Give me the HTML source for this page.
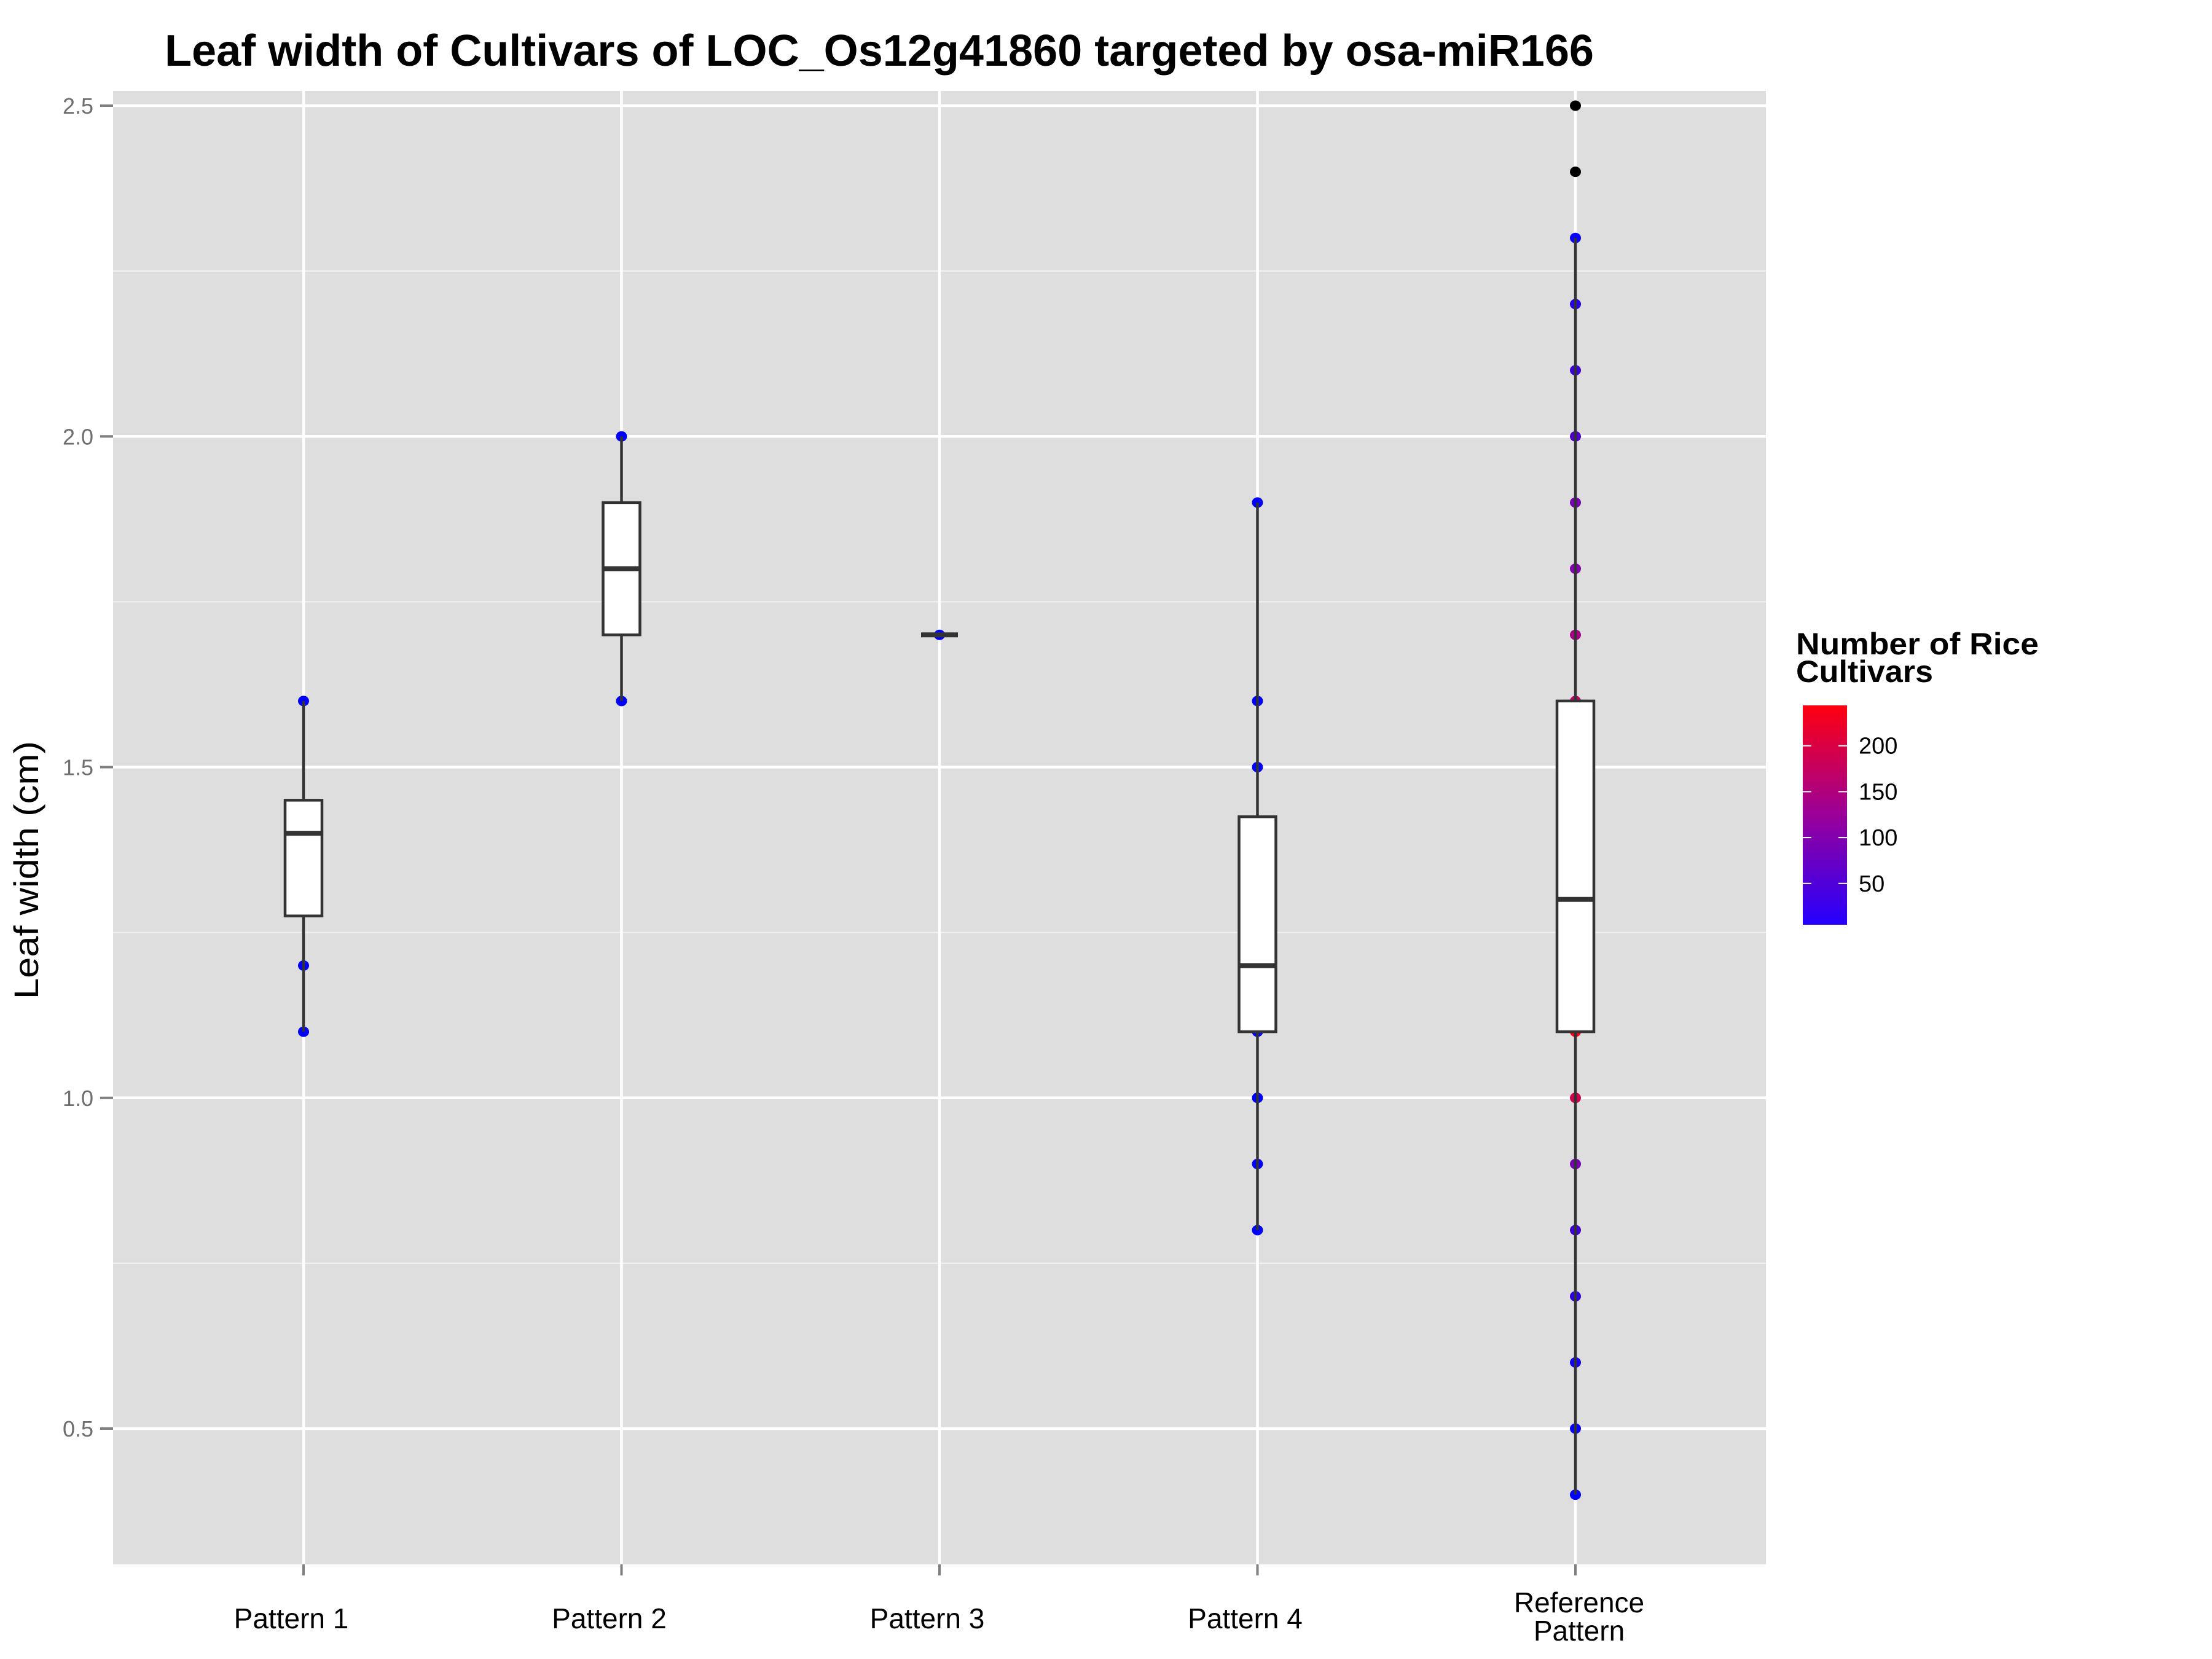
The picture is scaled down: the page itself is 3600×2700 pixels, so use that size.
<!DOCTYPE html>
<html><head><meta charset="utf-8"><style>
html,body{margin:0;padding:0;background:#fff;}
svg{display:block;font-family:"Liberation Sans",sans-serif;}
</style></head><body>
<svg id="chart" width="3600" height="2700" viewBox="0 0 3600 2700" xmlns="http://www.w3.org/2000/svg">
<defs>
<linearGradient id="cgrad" x1="0" y1="1" x2="0" y2="0">
<stop offset="0" stop-color="#2400ff"/>
<stop offset="0.5" stop-color="#9a0099"/>
<stop offset="1" stop-color="#ff0010"/>
</linearGradient>
</defs>
<text x="268" y="107" font-size="72" font-weight="bold" textLength="2326" lengthAdjust="spacingAndGlyphs">Leaf width of Cultivars of LOC_Os12g41860 targeted by osa-miR166</text>
<rect x="184" y="148" width="2690" height="2398" fill="#dedede"/>
<g id="grid"></g>
<g id="axes"></g>
<g id="marks"></g>
<text transform="translate(62,1416) rotate(-90)" text-anchor="middle" font-size="56" textLength="420" lengthAdjust="spacingAndGlyphs">Leaf width (cm)</text>
<g>
<text x="2923" y="1065" font-size="50" font-weight="bold" textLength="395" lengthAdjust="spacingAndGlyphs">Number of Rice</text>
<text x="2923" y="1110" font-size="50" font-weight="bold" textLength="223" lengthAdjust="spacingAndGlyphs">Cultivars</text>
<rect x="2934" y="1148" width="72" height="357" fill="url(#cgrad)"/>
<g id="legendticks"></g>
</g>
</svg>
<script>
const categories = ["Pattern 1","Pattern 2","Pattern 3","Pattern 4","Reference Pattern"];
const boxLower = [1.275, 1.7, 1.7, 1.1, 1.1];
const boxMedian = [1.4, 1.8, 1.7, 1.2, 1.3];
const boxUpper = [1.45, 1.9, 1.7, 1.425, 1.6];
const whiskerLow = [1.1, 1.6, 1.7, 0.8, 0.4];
const whiskerHigh = [1.6, 2.0, 1.7, 1.9, 2.3];
const pointCat = [0,0,0,0,0, 1,1,1, 2, 3,3,3,3,3,3,3,3,
  4,4,4,4,4,4,4,4,4,4,4,4,4,4,4,4,4,4,4,4,4,4];
const pointY = [1.1,1.2,1.3,1.4,1.6, 1.6,1.8,2.0, 1.7, 0.8,0.9,1.0,1.1,1.2,1.5,1.6,1.9,
  0.4,0.5,0.6,0.7,0.8,0.9,1.0,1.1,1.2,1.3,1.4,1.5,1.6,1.7,1.8,1.9,2.0,2.1,2.2,2.3,2.4,2.5];
const pointCount = [3,2,2,2,2, 2,2,3, 2, 2,3,5,4,3,4,5,6,
  5,8,18,40,55,95,190,240,200,180,170,175,170,140,105,95,65,50,35,12,null,null];
const yTicks = [0.5,1.0,1.5,2.0,2.5];
const yTickLabels = ["0.5","1.0","1.5","2.0","2.5"];
const yMinor = [0.75,1.25,1.75,2.25];
const legendTicks = [50,100,150,200];
const legendMin = 5, legendMax = 244;

const NS = "http://www.w3.org/2000/svg";
function el(tag, attrs, parent){const e=document.createElementNS(NS,tag);for(const k in attrs)e.setAttribute(k,attrs[k]);parent.appendChild(e);return e;}
function yScale(v){return 2325 - (v-0.5)*1076.5;}
function xScale(i){return 494 + i*517.5;}
function colorFor(c){
  if(c===null) return "#000000";
  const t=Math.max(0,Math.min(1,(c-legendMin)/(legendMax-legendMin)));
  let r,g,b;
  if(t<0.5){const u=t/0.5;r=0+(154-0)*u;g=0;b=255+(153-255)*u;}
  else{const u=(t-0.5)/0.5;r=154+(255-154)*u;g=0;b=153+(16-153)*u;}
  return `rgb(${Math.round(r)},${Math.round(g)},${Math.round(b)})`;
}
const grid=document.getElementById('grid'), axes=document.getElementById('axes'), marks=document.getElementById('marks'), lt=document.getElementById('legendticks');
yMinor.forEach(v=>{
  const l=el('line',{x1:184,x2:2874,y1:yScale(v),y2:yScale(v),stroke:'#f2f2f2','stroke-width':2},grid);
  
  
});
yTicks.forEach((v,i)=>{
  const l=el('line',{x1:184,x2:2874,y1:yScale(v),y2:yScale(v),stroke:'#ffffff','stroke-width':4.5},grid);
  
  
  const t=el('line',{x1:163,x2:184,y1:yScale(v),y2:yScale(v),stroke:'#7f7f7f','stroke-width':4},axes);
  
  
  const tx=el('text',{x:152,y:yScale(v)+13,'text-anchor':'end','font-size':36,fill:'#6e6e6e'},axes);
  tx.textContent=yTickLabels[i];
  
  
});
categories.forEach((c,i)=>{
  const x=xScale(i);
  const l=el('line',{x1:x,x2:x,y1:148,y2:2546,stroke:'#ffffff','stroke-width':4.5},grid);
  
  
  const t=el('line',{x1:x,x2:x,y1:2546,y2:2564,stroke:'#7f7f7f','stroke-width':4},axes);
  
  
  const words=c==="Reference Pattern"?["Reference","Pattern"]:[c];
  const tx=el('text',{'text-anchor':'middle','font-size':46,fill:'#000'},axes);
  
  
  if(words.length===1){tx.setAttribute('x',x-20);tx.setAttribute('y',2650);tx.textContent=c;}
  else{words.forEach((w,k)=>{const s=el('tspan',{x:x+6,y:2624+k*46},tx);s.textContent=w;});}
});
pointY.forEach((v,i)=>{
  const p=el('ellipse',{cx:xScale(pointCat[i]),cy:yScale(v),rx:9,ry:8.5,fill:colorFor(pointCount[i])},marks);
  
  
});
categories.forEach((c,i)=>{
  const x=xScale(i), hw=30;
  const w1=el('line',{x1:x,x2:x,y1:yScale(whiskerHigh[i]),y2:yScale(boxUpper[i]),stroke:'#333','stroke-width':4.5},marks);
  
  
  const w2=el('line',{x1:x,x2:x,y1:yScale(boxLower[i]),y2:yScale(whiskerLow[i]),stroke:'#333','stroke-width':4.5},marks);
  
  
  const b=el('rect',{x:x-hw,y:yScale(boxUpper[i]),width:hw*2,height:Math.max(0,yScale(boxLower[i])-yScale(boxUpper[i])),fill:'#fff',stroke:'#333','stroke-width':4.5},marks);
  
  
  const m=el('line',{x1:x-hw,x2:x+hw,y1:yScale(boxMedian[i]),y2:yScale(boxMedian[i]),stroke:'#333','stroke-width':8},marks);
  
  
});
legendTicks.forEach(v=>{
  const y=1505-(v-legendMin)/(legendMax-legendMin)*357;
  const a=el('line',{x1:2934,x2:2948,y1:y,y2:y,stroke:'#fff','stroke-width':2},lt);
  
  
  const b=el('line',{x1:2992,x2:3006,y1:y,y2:y,stroke:'#fff','stroke-width':2},lt);
  
  
  const t=el('text',{x:3025,y:y+13,'font-size':38,fill:'#000'},lt);
  t.textContent=String(v);
  
  
});
</script>
</body></html>
